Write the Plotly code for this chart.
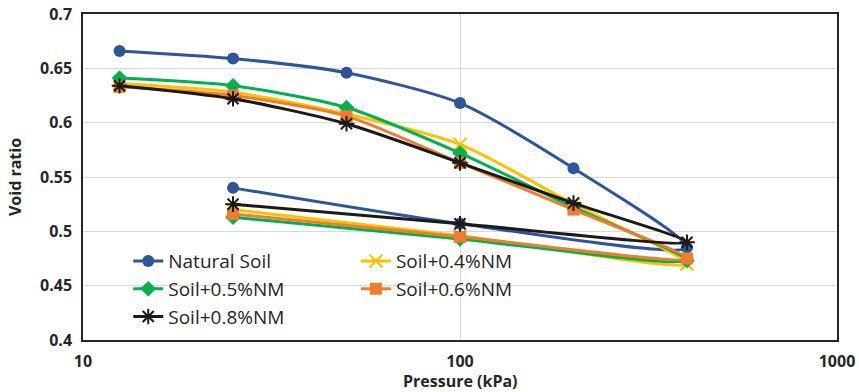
import plotly.graph_objects as go

pressure = [12.5, 25, 50, 100, 200, 400, 100, 25]
natural = [0.666, 0.659, 0.646, 0.618, 0.558, 0.485, 0.507, 0.540]
nm04 = [0.636, 0.628, 0.608, 0.580, 0.525, 0.470, 0.496, 0.520]
nm05 = [0.641, 0.634, 0.614, 0.572, 0.522, 0.473, 0.493, 0.513]
nm06 = [0.633, 0.625, 0.606, 0.563, 0.520, 0.475, 0.495, 0.516]
nm08 = [0.634, 0.622, 0.599, 0.563, 0.526, 0.490, 0.507, 0.525]

series = [
    ("Natural Soil", natural, "#2F5597", "circle", "legend"),
    ("Soil+0.4%NM", nm04, "#FFC000", "x-thin-open", "legend2"),
    ("Soil+0.5%NM", nm05, "#00B050", "diamond", "legend"),
    ("Soil+0.6%NM", nm06, "#ED7D31", "square", "legend2"),
    ("Soil+0.8%NM", nm08, "#1A1A1A", "asterisk-open", "legend"),
]

fig = go.Figure()
for name, vals, col, sym, lg in series:
    open_sym = sym.endswith("open")
    fig.add_trace(go.Scatter(
        x=pressure, y=vals, name=name, mode="lines+markers",
        line=dict(color=col, width=3, shape="spline", smoothing=0.7),
        marker=dict(symbol=sym, size=13 if open_sym else 12, color=col,
                    line=dict(color=col, width=2 if open_sym else 0)),
        legend=lg,
    ))

tickfont = dict(family="Open Sans", size=16, color="#262626", weight="bold")
titlefont = dict(family="Open Sans", size=16, color="#262626", weight="bold")
legfont = dict(family="Open Sans", size=19, color="#262626")
fig.update_layout(
    width=859, height=392,
    margin=dict(l=83, r=22, t=14, b=52, autoexpand=False),
    paper_bgcolor="white", plot_bgcolor="white",
    font=dict(family="Open Sans"),
    xaxis=dict(type="log", range=[1, 3], dtick=1, showgrid=True,
               gridcolor="#D9D9D9", gridwidth=1, showline=True, mirror=True,
               linecolor="#262626", linewidth=1.5, ticks="", tickfont=tickfont,
               ticklabelstandoff=6, automargin=False,
               zeroline=False),
    yaxis=dict(range=[0.4, 0.7], dtick=0.05, showgrid=True,
               gridcolor="#D9D9D9", gridwidth=1, showline=True, mirror=True,
               linecolor="#262626", linewidth=1.5, ticks="", tickfont=tickfont,
               tickformat="~g", ticklabelstandoff=6, automargin=False,
               title=dict(text="Void ratio", standoff=14, font=titlefont),
               zeroline=False),
    legend=dict(x=0.06, y=0.30, xanchor="left", yanchor="top",
                bgcolor="rgba(0,0,0,0)", font=legfont,
                tracegroupgap=0, itemwidth=30),
    legend2=dict(x=0.362, y=0.30, xanchor="left", yanchor="top",
                 bgcolor="rgba(0,0,0,0)", font=legfont,
                 tracegroupgap=0, itemwidth=30),
    annotations=[dict(text="Pressure (kPa)", xref="paper", yref="paper",
                      x=0.5, y=-0.125, xanchor="center", yanchor="middle",
                      showarrow=False, font=titlefont)],
)

fig.write_html("out.html")
